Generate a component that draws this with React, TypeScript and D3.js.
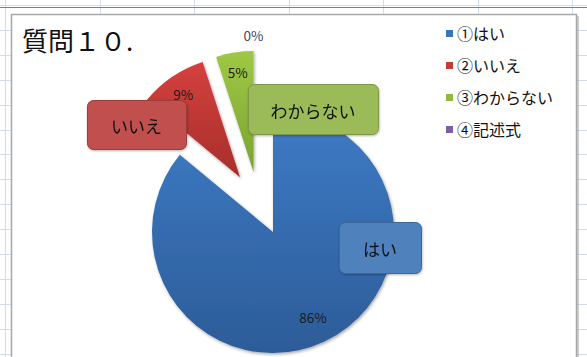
import React from "react";
import * as d3 from "d3";

// Survey answers for question 10
const categories = ["①はい", "②いいえ", "③わからない", "④記述式"];
const values = [86, 9, 5, 0];
const calloutLabels = ["はい", "いいえ", "わからない"];
const titleText = "質問１０.";

const W = 587;
const H = 357;

const sliceTop = ["#3e7bc5", "#d4413e", "#a0c845", "#8a6cb0"];
const sliceBottom = ["#2c5c98", "#a72e2b", "#7aa332", "#6a4f8f"];
const legendFill = ["#3a74bd", "#c63a37", "#93b83f", "#7b5ea6"];
const boxFill = ["#4f81bd", "#c0504d", "#9bbb59"];
const boxStroke = ["#3d6798", "#9c3d3a", "#7c9746"];

// explosion distance (px) and direction (degrees clockwise from 12 o'clock)
const explodeDist = [0, 64, 63, 63];
const explodeDir = [0, 329, 342, 342];

export default function App() {
  const cx = 273;
  const cy = 232;
  const r = 121;

  const pie = d3
    .pie<number>()
    .sort(null)
    .value((d) => d)(values);

  const arc = d3.arc<d3.PieArcDatum<number>>().innerRadius(0).outerRadius(r);

  const offsets = pie.map((_, i) => {
    const a = (explodeDir[i] * Math.PI) / 180;
    return [Math.sin(a) * explodeDist[i], -Math.cos(a) * explodeDist[i]];
  });

  const labelRadius = [94, 101, 101, 137];
  const fmt = d3.format(".0%");
  const total = d3.sum(values);

  // column / row lines of the sheet behind the chart
  const colX = d3.range(5, W + 1, 94.5);
  const rowY = d3.range(5, H + 1, 24.9);

  // callout boxes placed relative to the pie
  const boxes = [
    { x: cx + 66, y: cy - 10, w: 82, h: 51 },
    { x: cx - 186, y: cy - 132, w: 99, h: 49 },
    { x: cx - 25, y: cy - 148, w: 130, h: 50 },
  ];

  const legendX = 446;
  const legendY = d3.scalePoint<string>().domain(categories).range([33, 129]);

  return (
    <svg
      width={W}
      height={H}
      style={{ position: "absolute", left: 0, top: 0, background: "#fff" }}
      fontFamily="'Noto Sans CJK JP', 'Noto Sans', sans-serif"
    >
      <defs>
        {pie.map((_, i) => (
          <linearGradient key={i} id={`g${i}`} x1="0" y1="0" x2="0" y2="1">
            <stop offset="0" stopColor={sliceTop[i]} />
            <stop offset="1" stopColor={sliceBottom[i]} />
          </linearGradient>
        ))}
        <filter id="sh" x="-20%" y="-20%" width="140%" height="140%">
          <feDropShadow dx="1" dy="1.5" stdDeviation="1.6" floodColor="#000" floodOpacity="0.35" />
        </filter>
        <filter id="bsh" x="-20%" y="-20%" width="140%" height="140%">
          <feDropShadow dx="0.5" dy="1" stdDeviation="1" floodColor="#000" floodOpacity="0.3" />
        </filter>
      </defs>

      {/* worksheet grid */}
      <g stroke="#d4dbe8" strokeWidth={1}>
        {colX.map((x) => (
          <line key={`c${x}`} x1={Math.round(x) + 0.5} x2={Math.round(x) + 0.5} y1={0} y2={H} />
        ))}
        {rowY.map((y) => (
          <line key={`r${y}`} x1={0} x2={W} y1={Math.round(y) + 0.5} y2={Math.round(y) + 0.5} />
        ))}
      </g>
      <line x1={0} x2={W} y1={7.5} y2={7.5} stroke="#7f7f7f" strokeWidth={1} />

      {/* chart area */}
      <rect x={13} y={16} width={566} height={H} fill="#9a9a9a" opacity={0.5} />
      <rect x={11.5} y={14.5} width={565} height={H} fill="#fff" stroke="#a8a8a8" strokeWidth={1.5} />

      <text x={22} y={51} fontSize={26} fill="#111">
        {titleText}
      </text>

      {/* slices */}
      {pie.map((d, i) =>
        d.value > 0 ? (
          <path
            key={i}
            d={arc(d) || ""}
            transform={`translate(${cx + offsets[i][0]},${cy + offsets[i][1]})`}
            fill={`url(#g${i})`}
            filter="url(#sh)"
          />
        ) : null
      )}

      {/* percentage labels */}
      {pie.map((d, i) => {
        const a = (d.startAngle + d.endAngle) / 2;
        const lr = labelRadius[i];
        const x = cx + offsets[i][0] + Math.sin(a) * lr;
        const y = cy + offsets[i][1] - Math.cos(a) * lr;
        return (
          <text
            key={i}
            x={x}
            y={y}
            textAnchor="middle"
            dominantBaseline="central"
            fontSize={13.5}
            fill={d.value > 0 ? "#1c1c1c" : "#3a4a66"}
          >
            {fmt(d.value / total)}
          </text>
        );
      })}

      {/* callouts */}
      {boxes.map((b, i) => (
        <g key={i} filter="url(#bsh)">
          <rect
            x={b.x + 0.5}
            y={b.y + 0.5}
            width={b.w}
            height={b.h}
            rx={6}
            fill={boxFill[i]}
            stroke={boxStroke[i]}
            strokeWidth={1}
          />
          <text
            x={b.x + b.w / 2}
            y={b.y + b.h / 2 + 1}
            textAnchor="middle"
            dominantBaseline="central"
            fontSize={17}
            fill="#111"
          >
            {calloutLabels[i]}
          </text>
        </g>
      ))}

      {/* legend */}
      {categories.map((c, i) => (
        <g key={c} transform={`translate(${legendX},${legendY(c)})`}>
          <rect x={0} y={-3} width={7} height={7} fill={legendFill[i]} />
          <text x={11} y={0} dominantBaseline="central" fontSize={16} fill="#111">
            {c}
          </text>
        </g>
      ))}
    </svg>
  );
}
